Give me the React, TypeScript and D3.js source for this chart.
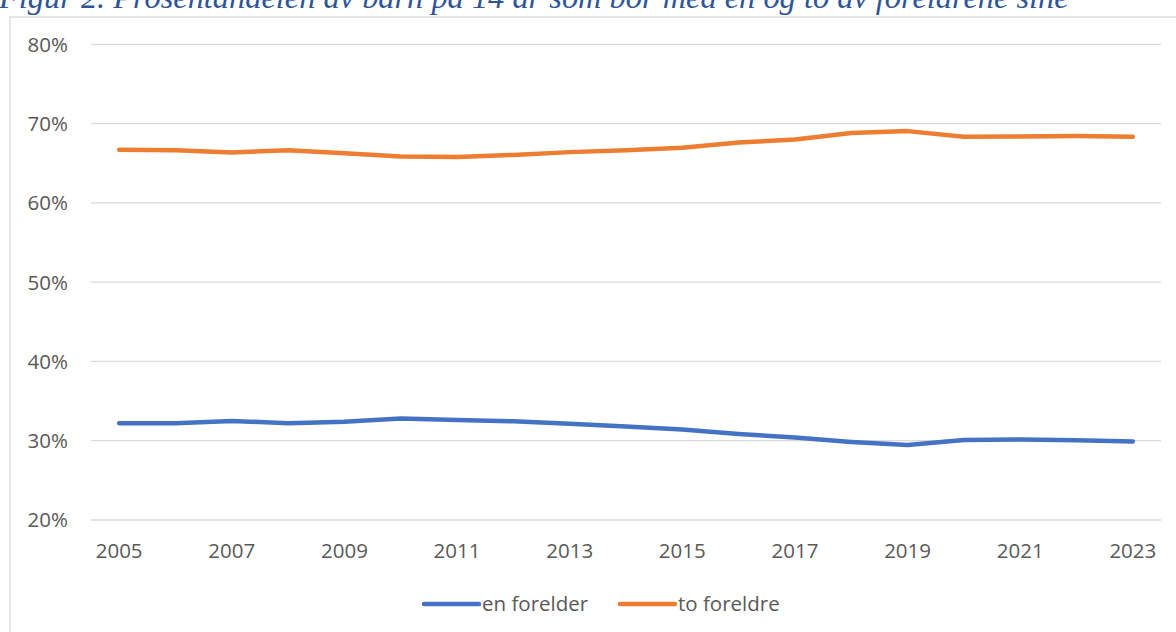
import * as d3 from "d3";
import { useEffect, useRef } from "react";

const years = [2005, 2006, 2007, 2008, 2009, 2010, 2011, 2012, 2013, 2014, 2015, 2016, 2017, 2018, 2019, 2020, 2021, 2022, 2023];
const enForelder = [32.2, 32.2, 32.5, 32.2, 32.4, 32.8, 32.6, 32.45, 32.15, 31.8, 31.4, 30.85, 30.4, 29.85, 29.45, 30.1, 30.15, 30.05, 29.9];
const toForeldre = [66.7, 66.65, 66.35, 66.65, 66.25, 65.85, 65.8, 66.05, 66.4, 66.65, 66.95, 67.6, 68.0, 68.8, 69.05, 68.35, 68.38, 68.42, 68.35];
const yTicks = [20, 30, 40, 50, 60, 70, 80];
const xTickYears = [2005, 2007, 2009, 2011, 2013, 2015, 2017, 2019, 2021, 2023];
const title = "Figur 2. Prosentandelen av barn på 14 år som bor med en og to av foreldrene sine";

const series = [
  { name: "en forelder", values: enForelder, color: "#4472c4" },
  { name: "to foreldre", values: toForeldre, color: "#ed7d31" },
];

const App = () => {
  const svgRef = useRef<SVGSVGElement | null>(null);

  useEffect(() => {
    const svg = d3.select(svgRef.current);
    svg.selectAll("*").remove();

    const font = "'Open Sans', sans-serif";
    const textColor = "#595959";

    // title, cut off at the top like in the document
    svg.append("text")
      .attr("x", -1)
      .attr("y", 7.5)
      .attr("font-family", "'Liberation Serif', 'Times New Roman', serif")
      .attr("font-style", "italic")
      .attr("font-size", 32.4)
      .attr("fill", "#2e5597")
      .text(title);

    // chart frame
    svg.append("rect")
      .attr("x", 10)
      .attr("y", 17)
      .attr("width", 1200)
      .attr("height", 700)
      .attr("fill", "none")
      .attr("stroke", "#d9d9d9")
      .attr("stroke-width", 1.3);

    const left = 91, right = 1161, top = 44.3, bottom = 520;

    const x = d3.scaleBand<number>()
      .domain(years)
      .range([left, right]);
    const cx = (yr: number) => (x(yr) as number) + x.bandwidth() / 2;

    const y = d3.scaleLinear()
      .domain([20, 80])
      .range([bottom, top]);

    // gridlines
    svg.append("g")
      .selectAll("line")
      .data(yTicks)
      .enter()
      .append("line")
      .attr("x1", left)
      .attr("x2", right)
      .attr("y1", (d) => y(d))
      .attr("y2", (d) => y(d))
      .attr("stroke", "#d9d9d9")
      .attr("stroke-width", 1.3);

    // y labels
    svg.append("g")
      .selectAll("text")
      .data(yTicks)
      .enter()
      .append("text")
      .attr("x", 68)
      .attr("y", (d) => y(d))
      .attr("dy", "0.36em")
      .attr("text-anchor", "end")
      .attr("font-family", font)
      .attr("font-size", 20.5)
      .attr("fill", textColor)
      .text((d) => d + "%");

    // x labels
    svg.append("g")
      .selectAll("text")
      .data(xTickYears)
      .enter()
      .append("text")
      .attr("x", (d) => cx(d))
      .attr("y", 558)
      .attr("text-anchor", "middle")
      .attr("font-family", font)
      .attr("font-size", 20.5)
      .attr("fill", textColor)
      .text((d) => d);

    const line = d3.line<number>()
      .x((d, i) => cx(years[i]))
      .y((d) => y(d));

    series.forEach((s) => {
      svg.append("path")
        .datum(s.values)
        .attr("d", line)
        .attr("fill", "none")
        .attr("stroke", s.color)
        .attr("stroke-width", 4.5)
        .attr("stroke-linecap", "round")
        .attr("stroke-linejoin", "round");
    });

    // legend
    const legendX = [424, 620];
    series.forEach((s, i) => {
      const g = svg.append("g").attr("transform", "translate(" + legendX[i] + ",604)");
      g.append("line")
        .attr("x1", 0)
        .attr("x2", 55)
        .attr("stroke", s.color)
        .attr("stroke-width", 4.5)
        .attr("stroke-linecap", "round");
      g.append("text")
        .attr("x", 58)
        .attr("dy", "0.36em")
        .attr("font-family", font)
        .attr("font-size", 20.5)
        .attr("fill", textColor)
        .text(s.name);
    });
  }, []);

  return (
    <svg
      ref={svgRef}
      width={1176}
      height={632}
      style={{ position: "absolute", left: 0, top: 0, background: "#fff" }}
    />
  );
};

export default App;
